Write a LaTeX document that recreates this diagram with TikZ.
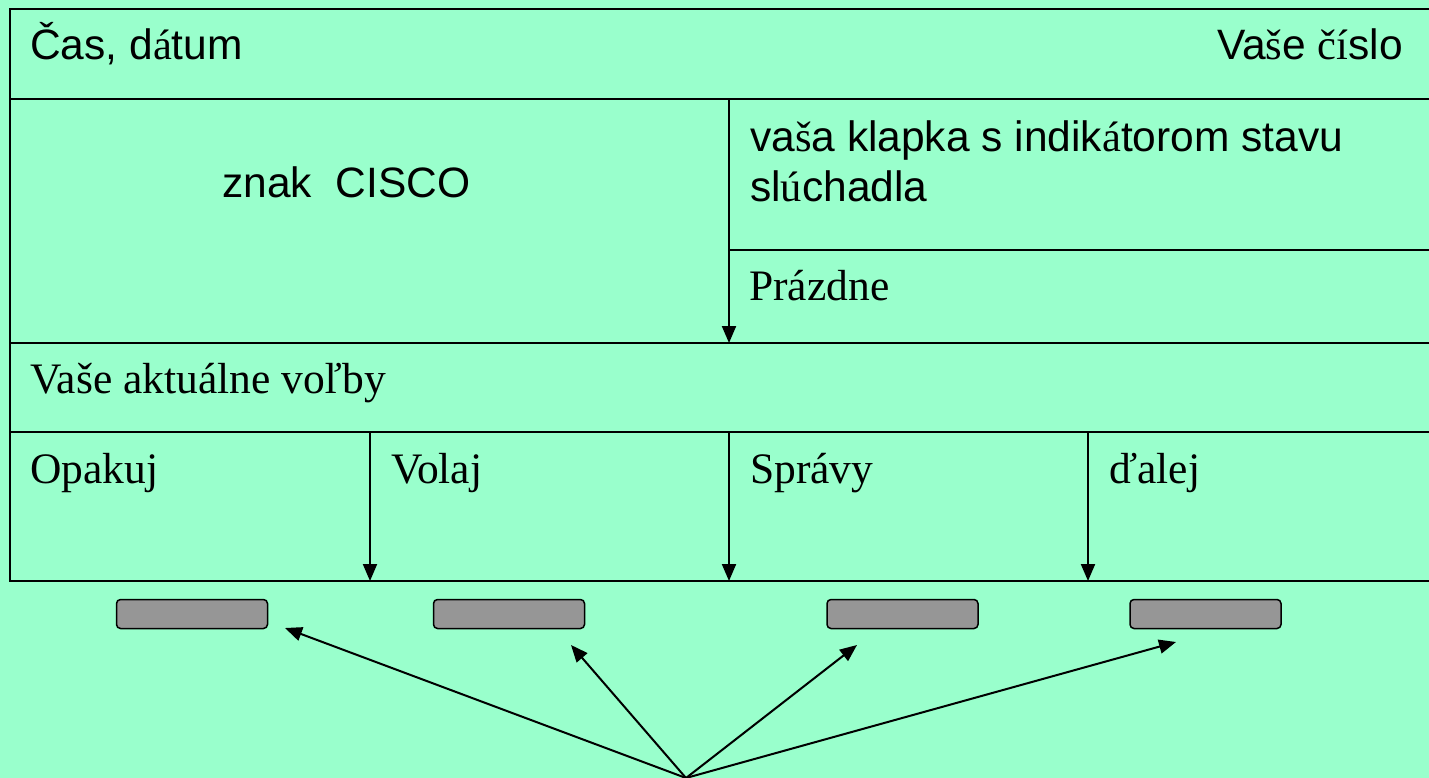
\documentclass[tikz,border=0pt]{standalone}
\usepackage{fontspec}
\setmainfont{Liberation Serif}
\newfontfamily\arial{Liberation Sans}
\usetikzlibrary{arrows.meta}
\definecolor{mint}{RGB}{153,255,204}
\definecolor{keygray}{RGB}{150,150,150}
\newcommand{\fb}[1]{{\rmfamily #1}}
\tikzstyle{sans}=[font=\arial\fontsize{42.5}{50}\selectfont, inner sep=0pt]
\tikzstyle{serif}=[font=\rmfamily\fontsize{43.5}{50}\selectfont, inner sep=0pt, anchor=base west]
\tikzstyle{frame}=[line width=2pt]
\tikzstyle{to}=[-{Triangle[length=17pt,width=14pt]}, line width=2pt]
\tikzstyle{key}=[draw, fill=keygray, rounded corners=4pt, line width=1.5pt,
  minimum width=151pt, minimum height=29pt, inner sep=0pt]

\begin{document}
\begin{tikzpicture}[x=1pt, y=-1pt]
        \fill[mint] (0, 0) rectangle (1429, 778);
        \clip (0, 0) rectangle (1429, 778);

        \coordinate (nw) at (10, 9);
        \coordinate (sw) at (10, 581);
        \coordinate (mid) at (729, 99);
        \coordinate (midS) at (729, 343);
        \coordinate (flap) at (729, 250);
        \coordinate (c1) at (370, 432);
        \coordinate (c1S) at (370, 581);
        \coordinate (c2) at (729, 432);
        \coordinate (c2S) at (729, 581);
        \coordinate (c3) at (1088, 432);
        \coordinate (c3S) at (1088, 581);

        \draw[frame] (1445, 9) -- (nw) -- (sw) -- (1445, 581);
        \draw[frame] (10, 99) -- (1445, 99);
        \draw[frame] (10, 343) -- (1445, 343);
        \draw[frame] (10, 432) -- (1445, 432);
        \draw[frame] (flap) -- (1445, 250);

        \draw[to] (mid) -- (midS);
        \draw[to] (c1) -- (c1S);
        \draw[to] (c2) -- (c2S);
        \draw[to] (c3) -- (c3S);

        \node[sans, anchor=base west] (time) at (30, 60) {Čas, d\fb{á}tum};
        \node[sans, anchor=base east] (number) at (1403, 60) {Va\fb{š}e \fb{č}\fb{í}slo};
        \node[sans, anchor=base west] (logo) at (222, 197) {znak~~CISCO};
        \node[sans, anchor=base west] (tab) at (750, 152) {va\fb{š}a klapka s indik\fb{á}torom stavu};
        \node[sans, anchor=base west] (tab2) at (750, 202) {sl\fb{ú}chadla};
        \node[serif] (empty) at (749, 300) {Prázdne};
        \node[serif] (choices) at (30, 393) {Vaše aktuálne voľby};
        \node[serif] (redial) at (30, 483) {Opakuj};
        \node[serif] (call) at (391, 483) {Volaj};
        \node[serif] (msgs) at (750, 483) {Správy};
        \node[serif] (more) at (1109, 483) {ďalej};

        \node[key] (b1) at (192, 614) {};
        \node[key] (b2) at (509, 614) {};
        \node[key] (b3) at (902.5, 614) {};
        \node[key] (b4) at (1205.5, 614) {};

        \coordinate (hub) at (686, 778);
        \coordinate (p1) at (285, 628);
        \coordinate (p2) at (571, 645);
        \coordinate (p3) at (857, 645);
        \coordinate (p4) at (1176, 642);
        \draw[to] (hub) -- (p1);
        \draw[to] (hub) -- (p2);
        \draw[to] (hub) -- (p3);
        \draw[to] (hub) -- (p4);
\end{tikzpicture}
\end{document}
